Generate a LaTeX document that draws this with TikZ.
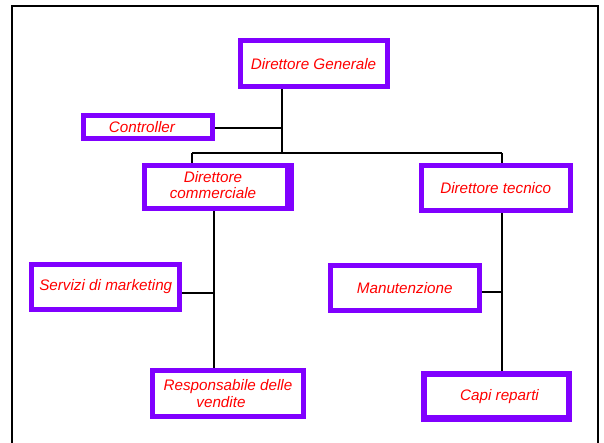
\documentclass[tikz,border=0pt]{standalone}
\usepackage{fontspec}
\setmainfont{Liberation Sans}
\definecolor{boxc}{HTML}{8000FF}
\pgfdeclarelayer{background}
\pgfsetlayers{background,main}
\begin{document}
\begin{tikzpicture}[x=1bp,y=-1bp,
  box/.style={draw=boxc, line width=5bp, fill=white, inner sep=0pt,
    font=\fontsize{15.3}{16.5}\selectfont\itshape, text=red, align=center},
  link/.style={line width=2bp, draw=black},
  frame/.style={line width=2.7bp, draw=black}]
\useasboundingbox (0,0) rectangle (604,443);
\draw[frame] (12,443) -- (12,6) -- (598,6) -- (598,443);

\node[box, minimum width=147bp, minimum height=45.5bp] (dg) at (313.5,63.75) {Direttore Generale};
\node[box, minimum width=129bp, minimum height=23bp] (ctrl) at (147.5,127.5) {Controller\hspace*{11bp}};
\node[box, minimum width=145.5bp, minimum height=43.5bp] (dc) at (217,187.25) {\raisebox{3bp}{\begin{tabular}{@{}c@{}}Direttore\\commerciale\end{tabular}}\hspace*{8bp}};
\fill[boxc] ([xshift=68bp,yshift=24.25bp]dc.center) rectangle ([xshift=77bp,yshift=-24.25bp]dc.center);
\node[box, minimum width=148.5bp, minimum height=45bp] (dt) at (495.75,188) {Direttore tecnico};
\node[box, minimum width=147.5bp, minimum height=45bp] (serv) at (105.75,287) {Servizi di marketing};
\node[box, minimum width=148.5bp, minimum height=45bp] (man) at (404.75,288) {Manutenzione};
\node[box, minimum width=151bp, minimum height=46bp] (resp) at (228,393.5) {Responsabile delle\\vendite\hspace*{14bp}};
\node[box, line width=6.5bp, minimum width=145bp, minimum height=44.5bp] (capi) at (496.5,396.25) {\hspace*{6bp}Capi reparti};

\coordinate (j) at (282,153);
\coordinate (bl) at (192,153);
\coordinate (br) at (502,153);
\coordinate (cv) at (214,293);
\coordinate (cr) at (502,292);

\begin{pgfonlayer}{background}
  \draw[link] (dg.south -| j) -- (j);
  \draw[link] (ctrl.east |- 0,128) -- (282,128);
  \draw[link] (bl) -- (br);
  \draw[link] (bl) -- (bl |- dc.north);
  \draw[link] (br) -- (br |- dt.north);
  \draw[link] (cv |- dc.south) -- (cv |- resp.north);
  \draw[link] (serv.east |- cv) -- (cv);
  \draw[link] (cr |- dt.south) -- (cr |- capi.north);
  \draw[link] (man.east |- cr) -- (cr);
\end{pgfonlayer}
\end{tikzpicture}
\end{document}
